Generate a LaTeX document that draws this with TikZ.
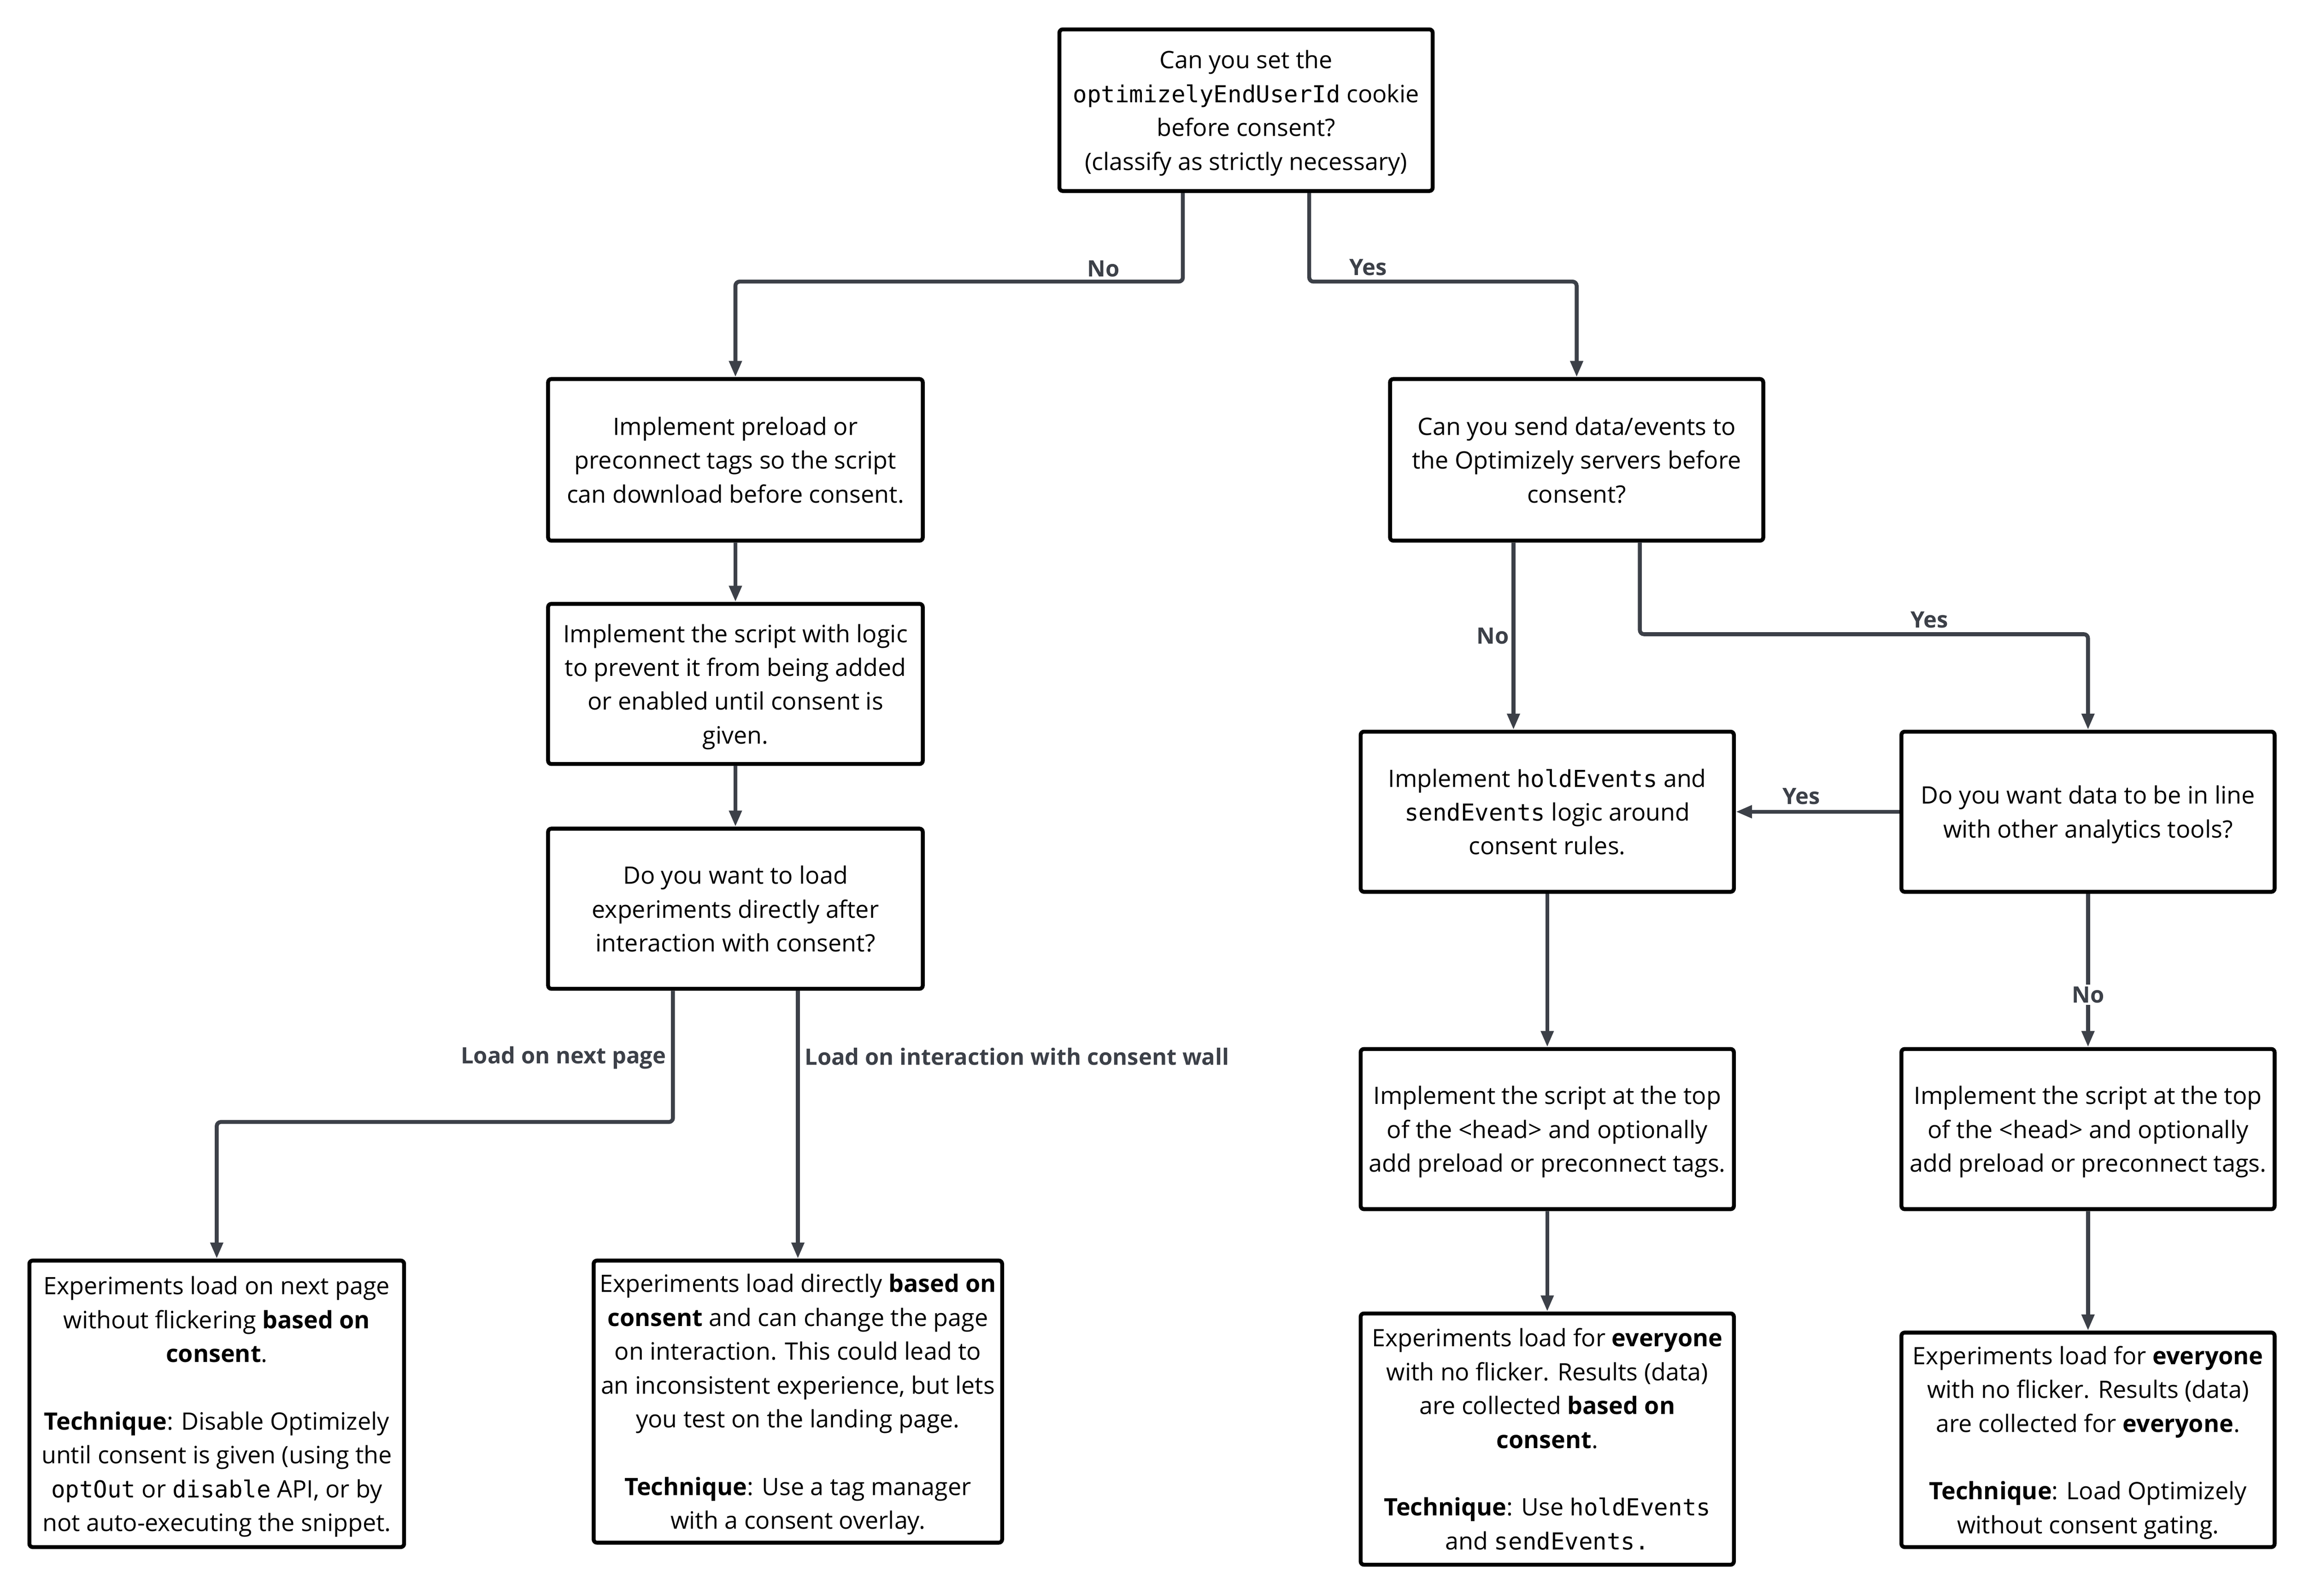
\documentclass[tikz,border=0pt]{standalone}
\usepackage{fontspec}
\setmainfont{Open Sans}
\newfontfamily\monofont[Scale=0.975]{DejaVu Sans Mono}
\usetikzlibrary{arrows.meta,calc}
\newcommand{\code}[1]{{\monofont #1}}
\newcommand{\topstrutx}{\rule{0pt}{11.7pt}}
\newcommand{\botstrutx}{\rule[-2.9pt]{0pt}{2.9pt}}
\definecolor{conncol}{HTML}{3C4048}
\tikzset{
  box/.style={draw=black, line width=1.9pt, rounded corners=1.6pt, fill=white,
    align=center, inner sep=0pt, text=black,
    font=\fontsize{11.6pt}{16.37pt}\selectfont},
  conn/.style={draw=conncol, line width=1.9pt, rounded corners=2pt,
    -{Triangle[width=5.9pt,length=7.8pt]}},
  lbl/.style={text=conncol, inner sep=1pt,
    font=\fontsize{10.9pt}{14pt}\selectfont\bfseries}
}
\begin{document}
\begin{tikzpicture}[x=0.025cm,y=-0.025cm]
\useasboundingbox (0,0) rectangle (1568,1086);
\fill[white] (0,0) rectangle (1568,1086);

% left branch
\node[box, minimum width=254*0.025cm, minimum height=110*0.025cm] (Q1) at (848,75)
  {\topstrutx Can you set the\\ \code{optimizelyEndUserId} cookie\\ before consent?\\ (classify as strictly necessary)\botstrutx};
\node[box, minimum width=255*0.025cm, minimum height=110*0.025cm] (B1) at (500.5,313)
  {\topstrutx Implement preload or\\ preconnect tags so the script\\ can download before consent.\botstrutx};
\node[box, minimum width=255*0.025cm, minimum height=109*0.025cm] (B2) at (500.5,465.5)
  {\topstrutx Implement the script with logic\\ to prevent it from being added\\ or enabled until consent is\\ given.\botstrutx};
\node[box, minimum width=255*0.025cm, minimum height=109*0.025cm] (B3) at (500.5,618.5)
  {\topstrutx Do you want to load\\ experiments directly after\\ interaction with consent?\botstrutx};
\node[box, minimum width=255*0.025cm, minimum height=195*0.025cm] (B4) at (147.5,955.5)
  {\topstrutx Experiments load on next page\\ without flickering \textbf{based on}\\ \textbf{consent}.\\[16.37pt]
   \textbf{Technique}: Disable Optimizely\\ until consent is given (using the\\
   \code{optOut} or \code{disable} API, or by\\ not auto-executing the snippet.\botstrutx};
\node[box, minimum width=278*0.025cm, minimum height=192*0.025cm] (B5) at (543,954)
  {\topstrutx Experiments load directly \textbf{based on}\\ \textbf{consent} and can change the page\\
   on interaction. This could lead to\\ an inconsistent experience, but lets\\
   you test on the landing page.\\[16.37pt]
   \textbf{Technique}: Use a tag manager\\ with a consent overlay.\botstrutx};

% right branch
\node[box, minimum width=254*0.025cm, minimum height=110*0.025cm] (R1) at (1073,313)
  {\topstrutx Can you send data/events to\\ the Optimizely servers before\\ consent?\botstrutx};
\node[box, minimum width=254*0.025cm, minimum height=109*0.025cm] (R2) at (1053,552.5)
  {\topstrutx Implement \code{holdEvents} and\\ \code{sendEvents} logic around\\ consent rules.\botstrutx};
\node[box, minimum width=254*0.025cm, minimum height=109*0.025cm] (R3) at (1421,552.5)
  {\topstrutx Do you want data to be in line\\ with other analytics tools?\botstrutx};
\node[box, minimum width=254*0.025cm, minimum height=109*0.025cm] (R4) at (1053,768.5)
  {\topstrutx Implement the script at the top\\ of the <head> and optionally\\ add preload or preconnect tags.\botstrutx};
\node[box, minimum width=254*0.025cm, minimum height=109*0.025cm] (R5) at (1421,768.5)
  {\topstrutx Implement the script at the top\\ of the <head> and optionally\\ add preload or preconnect tags.\botstrutx};
\node[box, minimum width=254*0.025cm, minimum height=171*0.025cm] (R6) at (1053,979.5)
  {\topstrutx Experiments load for \textbf{everyone}\\ with no flicker. Results (data)\\
   are collected \textbf{based on}\\ \textbf{consent}.\\[16.37pt]
   \textbf{Technique}: Use \code{holdEvents}\\ and \code{sendEvents.}\botstrutx};
\node[box, minimum width=254*0.025cm, minimum height=146*0.025cm] (R7) at (1421,980)
  {\topstrutx Experiments load for \textbf{everyone}\\ with no flicker. Results (data)\\
   are collected for \textbf{everyone}.\\[16.37pt]
   \textbf{Technique}: Load Optimizely\\ without consent gating.\botstrutx};

% connectors
\draw[conn] ($(Q1.south)+(-43,0)$) |- ($(B1.north)+(0,-65)$) -- (B1.north);
\draw[conn] ($(Q1.south)+(43,0)$) |- ($(R1.north)+(0,-65)$) -- (R1.north);
\draw[conn] (B1.south) -- (B2.north);
\draw[conn] (B2.south) -- (B3.north);
\draw[conn] ($(B3.south)+(-42.5,0)$) |- ($(B4.north)+(0,-93)$) -- (B4.north);
\draw[conn] (B3.south -| B5.north) -- (B5.north);
\draw[conn] ($(R1.south)+(-43,0)$) coordinate (rno) -- (rno |- R2.north);
\draw[conn] ($(R1.south)+(43,0)$) |- ($(R3.north)+(0,-65)$) -- (R3.north);
\draw[conn] (R3.west) -- (R2.east);
\draw[conn] (R3.south) -- (R5.north);
\draw[conn] (R2.south) -- (R4.north);
\draw[conn] (R4.south) -- (R6.north);
\draw[conn] (R5.south) -- (R7.north);

% labels
\node[lbl] (lNo1) at (751,183) {No};
\node[lbl] (lYes1) at (931,182) {Yes};
\node[lbl, anchor=east] (lNext) at (455,720) {Load on next page};
\node[lbl, anchor=west] (lInter) at (546,719) {Load on interaction with consent wall};
\node[lbl] (lNo2) at (1016,433) {No};
\node[lbl] (lYes2) at (1313,422) {Yes};
\node[lbl] (lYes3) at (1226,542) {Yes};
\node[lbl, fill=white] (lNo3) at (1421,677) {No};
\end{tikzpicture}
\end{document}
